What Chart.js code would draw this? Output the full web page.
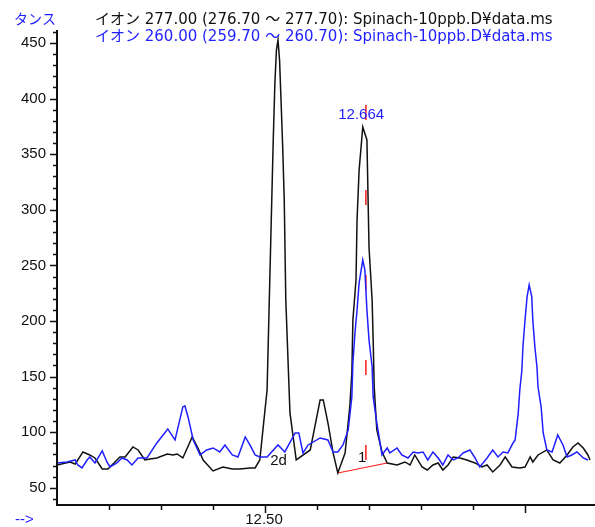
<!DOCTYPE html>
<html>
<head>
<meta charset="utf-8">
<script src="https://cdn.jsdelivr.net/npm/chart.js@4/dist/chart.umd.min.js"></script>
<style>
  html, body { margin: 0; padding: 0; background: #fff; }
  #chromChart { display: block; }
</style>
</head>
<body>
<canvas id="chromChart" width="595" height="527"></canvas>
<script>
// ion 277 trace (black)
const blackTimes = [12.100, 12.125, 12.135, 12.150, 12.163, 12.173, 12.187, 12.198, 12.221, 12.231,
  12.246, 12.256, 12.269, 12.279, 12.292, 12.312, 12.323, 12.331, 12.342, 12.360,
  12.371, 12.381, 12.400, 12.419, 12.437, 12.452, 12.471, 12.481, 12.490, 12.496,
  12.504, 12.513, 12.516, 12.519, 12.522, 12.525, 12.528, 12.531, 12.534, 12.537,
  12.540, 12.548, 12.560, 12.587, 12.606, 12.612, 12.621, 12.631, 12.640, 12.654,
  12.663, 12.667, 12.669, 12.675, 12.677, 12.681, 12.688, 12.696, 12.700, 12.706,
  12.708, 12.710, 12.715, 12.725, 12.735, 12.754, 12.769, 12.779, 12.788, 12.802,
  12.812, 12.823, 12.833, 12.842, 12.852, 12.862, 12.875, 12.888, 12.904, 12.917,
  12.927, 12.938, 12.952, 12.962, 12.975, 12.990, 13.000, 13.010, 13.015, 13.025,
  13.042, 13.054, 13.067, 13.081, 13.092, 13.102, 13.112, 13.121, 13.125];
const blackValues = [70.5, 73.2, 71.4, 82.2, 79.5, 76.8, 66.9, 66.9, 77.7, 77.7,
  86.7, 84.0, 75.0, 75.9, 76.8, 80.4, 79.5, 80.4, 76.8, 95.7,
  85.8, 75.0, 65.1, 68.7, 66.9, 66.9, 67.8, 67.8, 75.0, 102.0,
  137.9, 308.8, 365.5, 414.0, 443.7, 452.7, 434.7, 396.0, 356.5, 308.8,
  218.9, 117.3, 75.0, 84.0, 129.0, 129.0, 108.3, 81.3, 63.3, 81.3,
  122.7, 153.2, 200.9, 236.9, 290.8, 335.8, 374.5, 362.8, 266.5, 218.9,
  182.9, 140.6, 102.0, 82.2, 72.3, 70.5, 73.2, 70.5, 79.5, 68.7,
  66.0, 70.5, 72.3, 66.0, 70.5, 77.7, 76.8, 75.0, 72.3, 68.7,
  70.5, 64.2, 70.5, 77.7, 68.7, 67.8, 68.7, 77.7, 73.2, 79.5,
  84.0, 75.0, 72.3, 79.5, 86.7, 90.3, 85.8, 79.5, 75.0];

// ion 260 trace (blue)
const blueTimes = [12.100, 12.119, 12.135, 12.140, 12.148, 12.158, 12.163, 12.173, 12.187, 12.196,
  12.202, 12.215, 12.225, 12.235, 12.244, 12.256, 12.273, 12.292, 12.313, 12.327,
  12.342, 12.346, 12.352, 12.362, 12.375, 12.388, 12.400, 12.413, 12.423, 12.437,
  12.448, 12.462, 12.471, 12.481, 12.490, 12.504, 12.525, 12.538, 12.558, 12.565,
  12.573, 12.583, 12.606, 12.621, 12.631, 12.640, 12.650, 12.660, 12.667, 12.669,
  12.673, 12.677, 12.681, 12.685, 12.688, 12.692, 12.696, 12.700, 12.706, 12.708,
  12.715, 12.725, 12.735, 12.740, 12.754, 12.763, 12.775, 12.785, 12.794, 12.804,
  12.813, 12.823, 12.833, 12.842, 12.852, 12.862, 12.871, 12.881, 12.894, 12.904,
  12.913, 12.927, 12.938, 12.948, 12.958, 12.967, 12.977, 12.981, 12.987, 12.990,
  12.994, 12.996, 13.000, 13.004, 13.008, 13.013, 13.015, 13.019, 13.023, 13.025,
  13.031, 13.035, 13.042, 13.052, 13.063, 13.073, 13.081, 13.090, 13.100, 13.112,
  13.121];
const blueValues = [72.3, 73.2, 75.0, 70.5, 67.8, 75.0, 77.7, 72.3, 83.1, 73.2,
  68.7, 72.3, 76.8, 75.0, 70.5, 76.8, 76.8, 90.3, 102.9, 93.0,
  122.7, 123.6, 113.7, 93.0, 79.5, 84.0, 85.8, 82.2, 88.5, 79.5,
  77.7, 95.7, 88.5, 79.5, 77.7, 77.7, 88.5, 82.2, 99.3, 99.3,
  81.3, 88.5, 94.8, 93.0, 82.2, 82.2, 88.5, 102.0, 131.7, 162.2,
  189.2, 209.9, 234.2, 245.9, 254.9, 245.9, 209.9, 182.9, 158.6, 131.7,
  108.3, 79.5, 85.8, 81.3, 85.8, 79.5, 76.8, 82.2, 81.3, 82.2,
  75.0, 82.2, 76.8, 70.5, 79.5, 75.0, 76.8, 81.3, 84.0, 76.8,
  68.7, 76.8, 84.0, 77.7, 82.2, 81.3, 90.3, 93.0, 117.3, 137.9,
  155.9, 176.6, 200.9, 221.6, 232.4, 221.6, 200.9, 176.6, 158.6, 140.6,
  122.7, 99.3, 84.0, 82.2, 97.5, 88.5, 77.7, 79.5, 82.2, 76.8,
  75.0];

// integration marks for peak 1
const baselineTimes = [12.640, 12.735];
const baselineValues = [63.3, 72.3];
const markerTimes = [12.694, 12.694];
const markerValues = [75.0, 394.2];

// axis ticks and labels
const yLabelValues = [50, 100, 150, 200, 250, 300, 350, 400, 450];
const yMinorTicks = [40, 60, 70, 80, 90, 110, 120, 130, 140, 160, 170, 180, 190, 210, 220, 230, 240,
  260, 270, 280, 290, 310, 320, 330, 340, 360, 370, 380, 390, 410, 420, 430, 440, 460];
const xMinorTicks = [12.2, 12.3, 12.4, 12.6, 12.7, 12.8, 12.9];
const xMajorTicks = [12.5, 13.0];
const xLabels = ['12.50'];
const xLabelValues = [12.5];

const headerLines = [
  'イオン 277.00 (276.70 ～ 277.70): Spinach-10ppb.D¥data.ms',
  'イオン 260.00 (259.70 ～ 260.70): Spinach-10ppb.D¥data.ms'
];
const yTitle = 'タンス';
const xTitle = '-->';
const peakTexts = ['12.664', '2d', '1'];
const peakTextTimes = [12.685, 12.526, 12.687];
const peakTextValues = [385, 74.1, 76.8];

const BLACK = '#111111';
const BLUE = '#1f1fff';
const RED = '#ff1a1a';
const FONT = '15px "Liberation Sans", "Noto Sans CJK JP", sans-serif';
const HEAD_FONT = '15px "DejaVu Sans", "Noto Sans CJK JP", sans-serif';
const KANA_FONT = '14px "Noto Sans CJK JP", sans-serif';

function pairs(ts, vs) {
  return ts.map((t, i) => ({ x: t, y: vs[i] }));
}

const msAxes = {
  id: 'msAxes',
  afterDraw(chart) {
    const { ctx, chartArea: a, scales: { x, y } } = chart;
    ctx.save();
    ctx.strokeStyle = BLACK;
    ctx.lineWidth = 2;
    ctx.beginPath();
    ctx.moveTo(a.left, a.top);
    ctx.lineTo(a.left, a.bottom);
    ctx.lineTo(chart.width, a.bottom);
    ctx.stroke();

    ctx.lineWidth = 1.5;
    ctx.beginPath();
    yMinorTicks.forEach((v) => {
      const py = Math.round(y.getPixelForValue(v)) + 0.5;
      ctx.moveTo(a.left - 4, py); ctx.lineTo(a.left, py);
    });
    yLabelValues.forEach((v) => {
      const py = Math.round(y.getPixelForValue(v)) + 0.5;
      ctx.moveTo(a.left - 7, py); ctx.lineTo(a.left, py);
    });
    xMinorTicks.forEach((t) => {
      const px = Math.round(x.getPixelForValue(t)) + 0.5;
      ctx.moveTo(px, a.bottom); ctx.lineTo(px, a.bottom + 5);
    });
    xMajorTicks.forEach((t) => {
      const px = Math.round(x.getPixelForValue(t)) + 0.5;
      ctx.moveTo(px, a.bottom); ctx.lineTo(px, a.bottom + 8);
    });
    ctx.stroke();

    ctx.font = FONT;
    ctx.fillStyle = BLACK;
    ctx.textBaseline = 'middle';
    ctx.textAlign = 'right';
    yLabelValues.forEach((v) => ctx.fillText(String(v), a.left - 11, y.getPixelForValue(v)));
    ctx.textAlign = 'center';
    xLabels.forEach((s, i) => ctx.fillText(s, x.getPixelForValue(xLabelValues[i]) - 1, 520));

    ctx.textAlign = 'left';
    ctx.fillStyle = BLUE;
    ctx.fillText(xTitle, 15, 520);
    ctx.font = KANA_FONT;
    ctx.fillText(yTitle, 14, 19);
    ctx.font = HEAD_FONT;
    ctx.fillStyle = BLACK;
    ctx.fillText(headerLines[0], 95, 20);
    ctx.fillStyle = BLUE;
    ctx.fillText(headerLines[1], 95, 37);

    ctx.font = FONT;
    ctx.textAlign = 'center';
    peakTexts.forEach((s, i) => {
      ctx.fillStyle = i === 0 ? BLUE : BLACK;
      ctx.fillText(s, x.getPixelForValue(peakTextTimes[i]), y.getPixelForValue(peakTextValues[i]));
    });
    ctx.restore();
  }
};

new Chart(document.getElementById('chromChart'), {
  type: 'line',
  data: {
    datasets: [
      { label: 'ion 260', data: pairs(blueTimes, blueValues), borderColor: BLUE, borderWidth: 1.5, order: 0 },
      { label: 'ion 277', data: pairs(blackTimes, blackValues), borderColor: BLACK, borderWidth: 1.5, order: 1 },
      { label: 'baseline', data: pairs(baselineTimes, baselineValues), borderColor: RED, borderWidth: 1.2, order: 2 },
      { label: 'marker', data: pairs(markerTimes, markerValues), borderColor: RED, borderWidth: 1.5, borderDash: [15, 70], order: 3 }
    ]
  },
  options: {
    responsive: false,
    animation: false,
    devicePixelRatio: 1,
    layout: { padding: { left: 57, top: 30, right: 0, bottom: 22 } },
    elements: { point: { radius: 0 }, line: { tension: 0, fill: false } },
    plugins: { legend: { display: false }, tooltip: { enabled: false } },
    scales: {
      x: { type: 'linear', min: 12.1, max: 13.1346, display: false },
      y: { type: 'linear', min: 34.5, max: 461.7, display: false }
    }
  },
  plugins: [msAxes]
});
</script>
</body>
</html>
